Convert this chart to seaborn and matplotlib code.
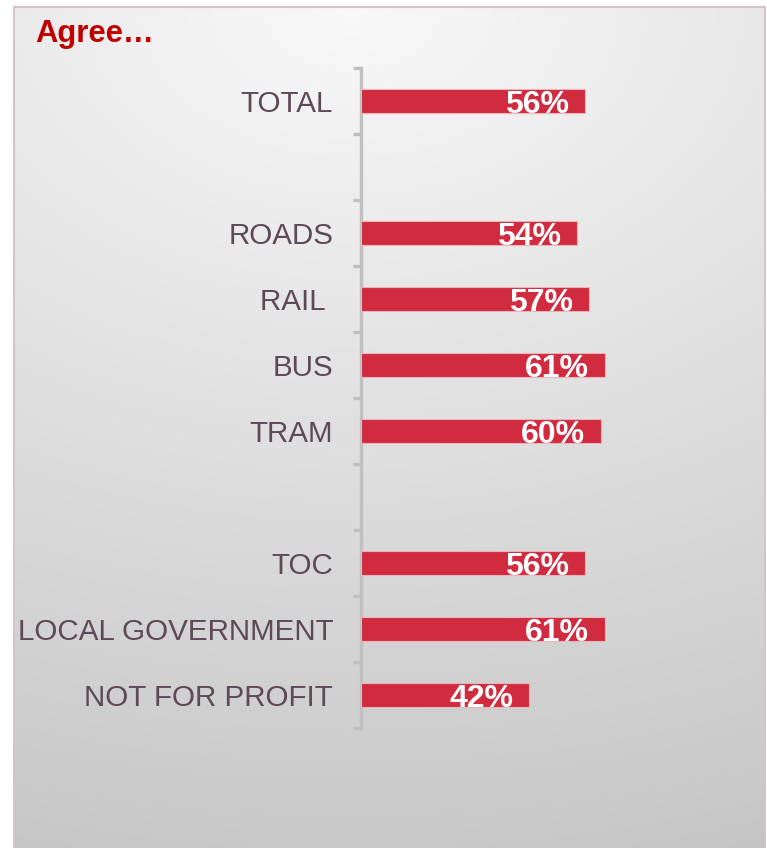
import numpy as np
import pandas as pd
import matplotlib
matplotlib.use("Agg")
import matplotlib.pyplot as plt
import seaborn as sns

# Share of respondents who agree, by group
bar_labels = ["TOTAL", "ROADS", "RAIL ", "BUS", "TRAM", "TOC",
              "LOCAL GOVERNMENT", "NOT FOR PROFIT"]
agree_pct = [56, 54, 57, 61, 60, 56, 61, 42]

# Row order, with blank rows separating the groups
row_order = ["TOTAL", " ", "ROADS", "RAIL ", "BUS", "TRAM", "  ",
             "TOC", "LOCAL GOVERNMENT", "NOT FOR PROFIT"]

title_text = "Agree…"

sns.set_style("white")
plt.rcParams["font.family"] = ["Liberation Sans", "DejaVu Sans"]

W, H = 767, 848
fig = plt.figure(figsize=(W / 100, H / 100), dpi=100)
fig.patch.set_facecolor("white")

# Panel with a soft radial light-to-grey gradient
bg = fig.add_axes([14 / W, 0, (765 - 14) / W, (848 - 7) / H], zorder=0)
ny, nx = 300, 300
yy, xx = np.mgrid[0:1:ny * 1j, 0:1:nx * 1j]
dist = np.sqrt(((xx - 0.45) * 0.62) ** 2 + yy ** 2)
shade = 0.975 - 0.19 * dist
img = np.dstack([shade, shade, shade])
bg.imshow(np.clip(img, 0, 1), extent=[0, 1, 0, 1], origin="upper",
          aspect="auto", interpolation="bilinear")
bg.set_xlim(0, 1)
bg.set_ylim(0, 1)
bg.set_xticks([])
bg.set_yticks([])
for side, sp in bg.spines.items():
    sp.set_color("#d6c3cb")
    sp.set_linewidth(1.5)
bg.spines["bottom"].set_visible(False)

# Bar chart
left, right = 361 / W, 761 / W
top, bottom = 1 - 68 / H, 1 - 728 / H
ax = fig.add_axes([left, bottom, right - left, top - bottom], zorder=2)
ax.patch.set_alpha(0)

df = pd.DataFrame({"group": bar_labels, "pct": agree_pct})
sns.barplot(data=df, x="pct", y="group", order=row_order, orient="h",
            color="#D12B3F", saturation=1, width=0.36,
            edgecolor="#EDB3BA", linewidth=0.8, ax=ax, zorder=3)

for name, v in zip(df["group"], df["pct"]):
    yi = row_order.index(name)
    ax.annotate(f"{v}%", xy=(v, yi), xytext=(-16, -4),
                textcoords="offset pixels", ha="right", va="center",
                fontsize=23, fontweight="bold", color="white", zorder=4)

ax.set_xlim(0, 100)
ax.set_ylim(len(row_order) - 0.5, -0.5)
ax.set_xlabel("")
ax.set_ylabel("")
ax.xaxis.set_visible(False)

ax.set_yticks(range(len(row_order)))
ax.set_yticklabels(row_order)
ax.tick_params(axis="y", which="major", left=False, length=0, pad=20,
               labelsize=21.3, labelcolor="#5E4A57")
ax.set_yticks(np.arange(-0.5, len(row_order), 1.0), minor=True)
ax.tick_params(axis="y", which="minor", left=True, length=6, width=2.4,
               color="#c0c0c0", direction="out")

for side in ["top", "right", "bottom"]:
    ax.spines[side].set_visible(False)
ax.spines["left"].set_color("#c0c0c0")
ax.spines["left"].set_linewidth(2.4)

fig.text(35 / W, 1 - 34 / H, title_text, ha="left", va="center",
         fontsize=22.3, fontweight="bold", color="#C00000")

fig.savefig("out.png", dpi=100)
